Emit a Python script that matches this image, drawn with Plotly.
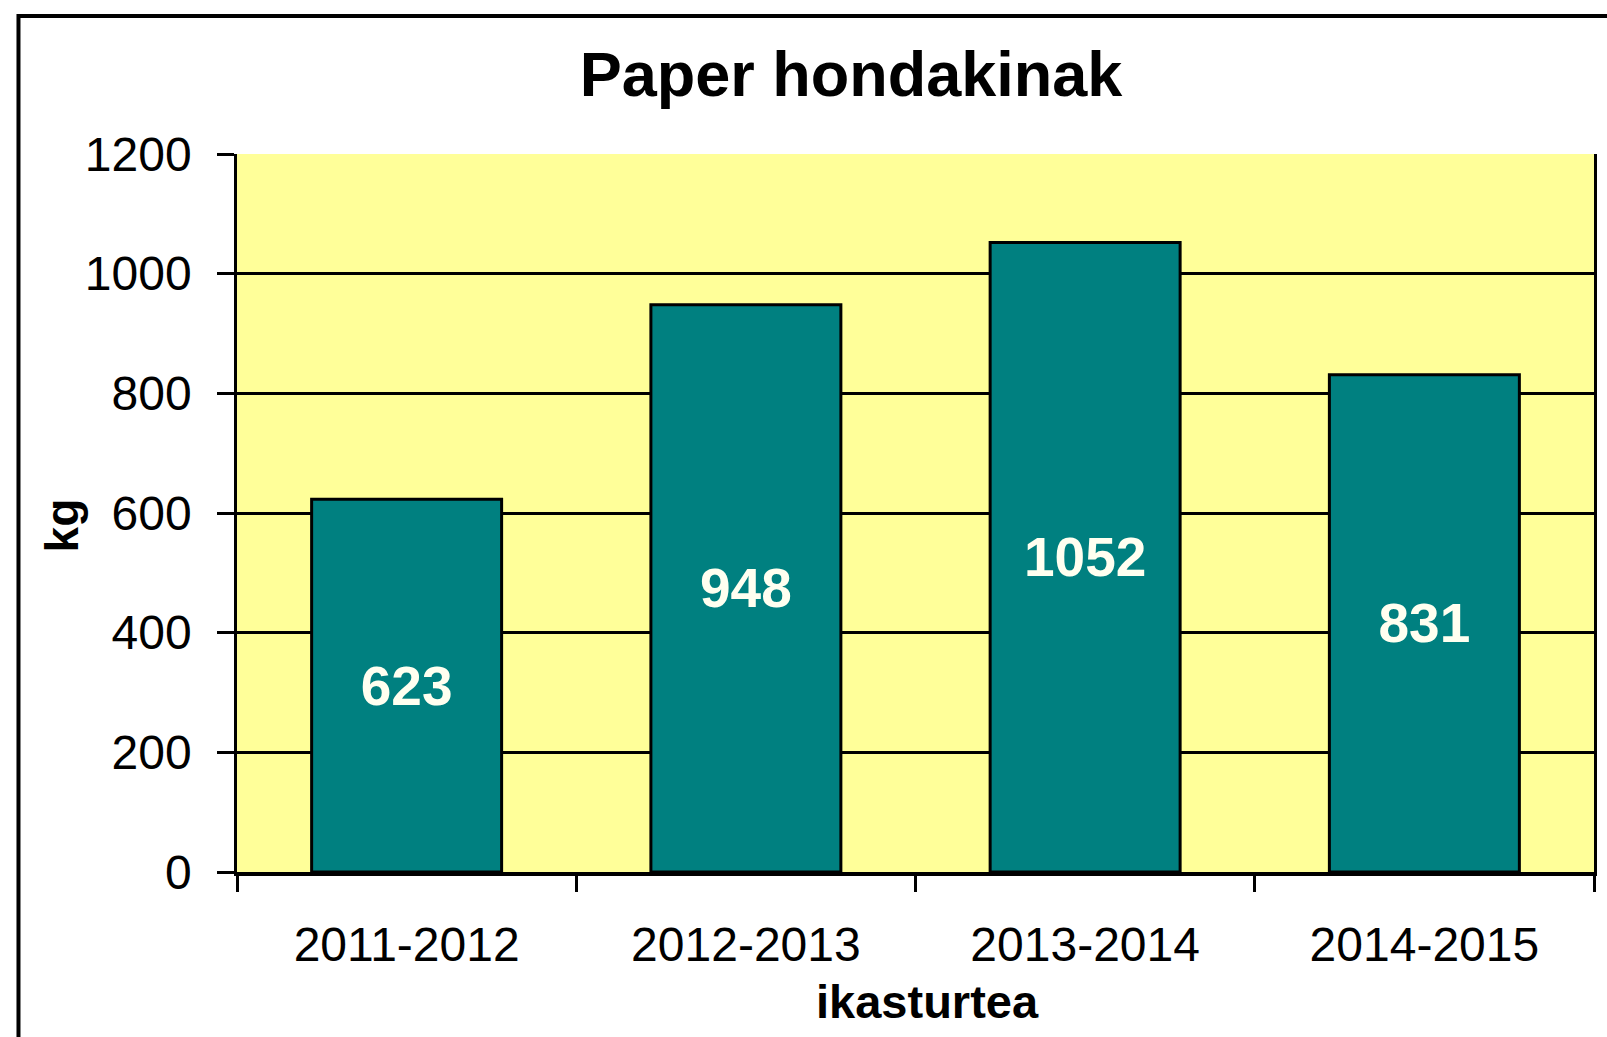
import plotly.graph_objects as go

categories = ["2011-2012", "2012-2013", "2013-2014", "2014-2015"]
values = [623, 948, 1052, 831]
title_text = "Paper hondakinak"
x_title = "ikasturtea"
y_title = "kg"

FONT = "Liberation Sans, Arial, Helvetica, sans-serif"
W, H = 1607, 1037
L, R, T, B = 237, 10, 154, 165  # plot area: x 237..1597, y 154..872
PW, PH = W - L - R, H - T - B

def px_x(px):
    return (px - L) / PW

def px_y(py):
    return (H - B - py) / PH

fig = go.Figure(
    go.Bar(
        x=categories,
        y=values,
        text=[str(v) for v in values],
        textposition="inside",
        insidetextanchor="middle",
        textangle=0,
        textfont=dict(family=FONT, size=55, color="#FFFFF0", weight="bold"),
        marker=dict(color="#008080", line=dict(color="black", width=3)),
        width=0.56,
    )
)

fig.update_layout(
    width=W,
    height=H,
    margin=dict(l=L, r=R, t=T, b=B),
    paper_bgcolor="white",
    plot_bgcolor="#FFFF99",
    showlegend=False,
    font=dict(family=FONT, color="black"),
    title=dict(
        text=title_text,
        font=dict(family=FONT, size=63, color="black", weight="bold"),
        xref="container", x=851 / W, xanchor="center",
        yref="container", y=1 - 74 / H, yanchor="middle",
    ),
)

fig.update_yaxes(
    range=[0, 1200],
    dtick=200,
    tickfont=dict(family=FONT, size=48, color="black"),
    ticks="outside", ticklen=17, tickwidth=2.5, tickcolor="black",
    ticklabelstandoff=16,
    showgrid=True, gridcolor="black", gridwidth=2.5,
    showline=True, linecolor="black", linewidth=2.5, mirror=True,
    zeroline=False,
)

fig.update_xaxes(
    type="category",
    tickson="boundaries",
    tickfont=dict(family=FONT, size=48, color="black"),
    ticks="outside", ticklen=16, tickwidth=2.5, tickcolor="black",
    ticklabelstandoff=28,
    showline=True, linecolor="black", linewidth=3.5, mirror=False,
    showgrid=False,
)

# axis titles
fig.add_annotation(
    text=y_title, textangle=-90, showarrow=False,
    xref="paper", yref="paper", x=px_x(62), y=px_y(525),
    xanchor="center", yanchor="middle",
    font=dict(family=FONT, size=46, color="black", weight="bold"),
)
fig.add_annotation(
    text=x_title, showarrow=False,
    xref="paper", yref="paper", x=px_x(929), y=px_y(1001),
    xanchor="center", yanchor="middle",
    font=dict(family=FONT, size=47, color="black", weight="bold"),
)

# outer chart border (left and top edges visible, rest cropped)
fig.add_shape(
    type="rect", xref="paper", yref="paper",
    x0=px_x(18), x1=px_x(1650), y0=px_y(1080), y1=px_y(16),
    line=dict(color="black", width=4), fillcolor="rgba(0,0,0,0)",
    layer="above",
)

fig.write_html("out.html")
